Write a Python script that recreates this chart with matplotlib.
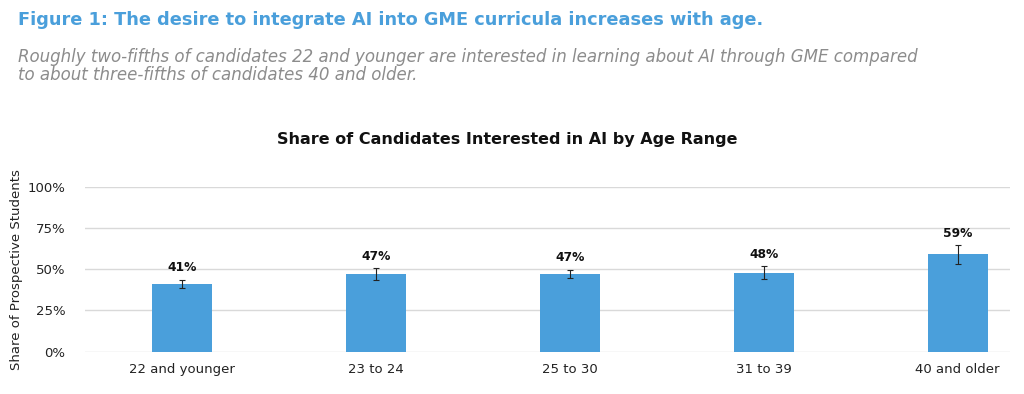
"""Share of candidates interested in AI by age range (bar chart with error bars)."""

import matplotlib
matplotlib.use("Agg")
import matplotlib.pyplot as plt
from matplotlib.ticker import PercentFormatter

# Data
age_ranges = ["22 and younger", "23 to 24", "25 to 30", "31 to 39", "40 and older"]
share = [0.41, 0.47, 0.47, 0.48, 0.59]
error = [0.025, 0.035, 0.025, 0.037, 0.056]
y_ticks = [0.0, 0.25, 0.50, 0.75, 1.0]

BLUE = "#4a9fdb"
GRAY = "#8c8c8c"
FONT = "DejaVu Sans"

plt.rcParams["font.family"] = [FONT]

W, H = 1024, 394
fig = plt.figure(figsize=(W / 100, H / 100), dpi=100)

# Axes placed to match the reference pixel layout
left, right = 85, 1010
y0, y100 = 351.7, 186.7
ax = fig.add_axes([left / W, (H - y0) / H, (right - left) / W, (y0 - y100) / H])

x = list(range(len(age_ranges)))
ax.bar(x, share, width=0.31, color=BLUE, zorder=2)
ax.errorbar(x, share, yerr=error, fmt="none", ecolor="#222222",
            elinewidth=0.8, capsize=2.2, capthick=0.8, zorder=3)

for xi, v, e in zip(x, share, error):
    ax.annotate(f"{v:.0%}", (xi, v + e), xytext=(0, 4), textcoords="offset points",
                ha="center", va="bottom", fontsize=8.8, fontweight="bold", color="#111111")

ax.set_xlim(-0.5, 4.27)
ax.set_ylim(0, 1.0)
ax.set_yticks(y_ticks)
ax.yaxis.set_major_formatter(PercentFormatter(1.0, decimals=0))
ax.set_xticks(x)
ax.set_xticklabels(age_ranges)
ax.tick_params(axis="both", length=0, labelsize=9.5, colors="#222222")
ax.tick_params(axis="y", pad=14)
ax.tick_params(axis="x", pad=8)
ax.grid(axis="y", color="#d9d9d9", linewidth=1, zorder=0)
ax.set_axisbelow(True)
for s in ax.spines.values():
    s.set_visible(False)

ax.set_ylabel("Share of Prospective Students", fontsize=9.5, color="#222222")
ax.yaxis.set_label_coords(-62 / (right - left), 0.5)

# Header texts
fig.text(18 / W, 1 - 20 / H, "Figure 1: The desire to integrate AI into GME curricula increases with age.",
         fontsize=12.8, fontweight="bold", color=BLUE, ha="left", va="center")
fig.text(18 / W, 1 - 57 / H, "Roughly two-fifths of candidates 22 and younger are interested in learning "
         "about AI through GME compared",
         fontsize=12, style="italic", color=GRAY, ha="left", va="center")
fig.text(18 / W, 1 - 75 / H, "to about three-fifths of candidates 40 and older.",
         fontsize=12, style="italic", color=GRAY, ha="left", va="center")
fig.text(507 / W, 1 - 140 / H, "Share of Candidates Interested in AI by Age Range",
         fontsize=11.5, fontweight="bold", color="#111111", ha="center", va="center")

fig.savefig("out.png", dpi=100, facecolor="white")
